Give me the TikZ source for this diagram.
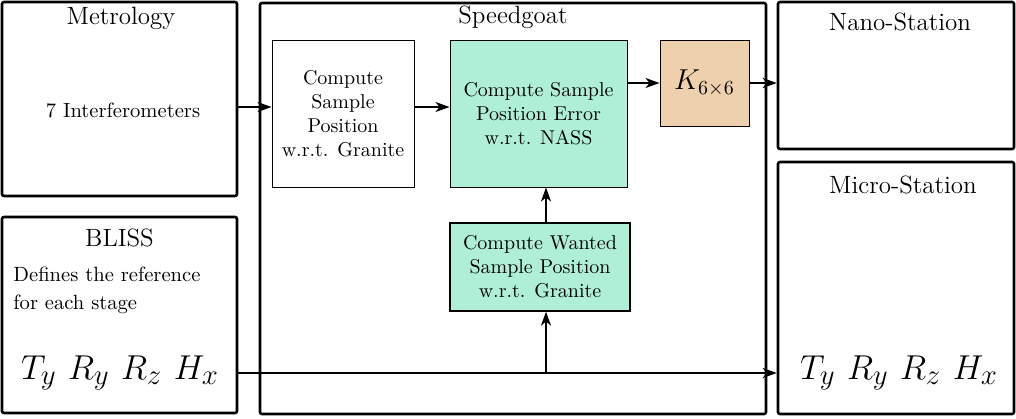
\documentclass[tikz,border=0pt]{standalone}
\usetikzlibrary{arrows.meta}
\definecolor{mint}{HTML}{AEEFD6}
\definecolor{peach}{HTML}{EFD0AC}
\begin{document}
\begin{tikzpicture}[x=0.5pt,y=-0.5pt,
  bigbox/.style={draw,line width=1.3pt,rounded corners=1pt,inner sep=0pt},
  inbox/.style={draw,inner sep=0pt,align=center,font=\normalsize},
  title/.style={font=\fontsize{12.5}{15}\selectfont,inner sep=0pt},
  conn/.style={line width=0.8pt,-{Stealth[length=7pt,width=5pt,inset=2pt]}},
  mathtxt/.style={font=\fontsize{19}{23}\selectfont,inner sep=0pt}]
\useasboundingbox (0,0) rectangle (1016,418);
% outer boxes
\node[bigbox,minimum width=117.5pt,minimum height=97pt] (metro) at (119.5,99) {};
\node[bigbox,minimum width=117.5pt,minimum height=98pt] (bliss) at (119.5,315) {};
\node[bigbox,minimum width=253pt,minimum height=205.5pt] (speed) at (513,208.5) {};
\node[bigbox,minimum width=118pt,minimum height=73.5pt] (nano) at (896,75.5) {};
\node[bigbox,minimum width=118pt,minimum height=126pt] (micro) at (896,288) {};
% titles
\node[title] (tmetro) at (121,18) {Metrology};
\node[title] (tspeed) at (513,17) {Speedgoat};
\node[title] (tnano) at (900,22) {Nano-Station};
\node[title] (tmicro) at (903,185) {Micro-Station};
\node[title] (tbliss) at (119.5,238) {BLISS};
% texts
\node[inner sep=0pt,font=\fontsize{10.3}{12.5}\selectfont] (interf) at (123,110) {7 Interferometers};
\node[inner sep=0pt,align=left,anchor=west,font=\fontsize{10.3}{14}\selectfont] (bdesc) at (13,290) {Defines the reference\\for each stage};
\node[mathtxt] (bmath) at (120,373) {$T_y\ R_y\ R_z\ H_x$};
\node[mathtxt] (mmath) at (899,373) {$T_y\ R_y\ R_z\ H_x$};
% inner boxes
\node[inbox,line width=0.5pt,minimum width=71pt,minimum height=73.5pt] (b1) at (343,113.5) {Compute\\Sample\\Position\\w.r.t. Granite};
\node[inbox,line width=0.5pt,fill=mint,minimum width=88.5pt,minimum height=73.5pt] (b2) at (538.5,113.5) {Compute Sample\\Position Error\\w.r.t. NASS};
\node[inbox,line width=0.5pt,fill=peach,minimum width=44.5pt,minimum height=43pt,font=\Large] (K) at (704.5,83) {$K_{6\times 6}$};
\node[inbox,line width=0.65pt,fill=mint,minimum width=90pt,minimum height=44pt] (want) at (540,267) {Compute Wanted\\Sample Position\\w.r.t. Granite};
% connectors
\coordinate (r1) at (0,107);
\coordinate (r2) at (0,83);
\coordinate (r3) at (0,373);
\coordinate (br) at (546,373);
\draw[conn] (metro.east |- r1) -- (b1.west |- r1);
\draw[conn] (b1.east |- r1) -- (b2.west |- r1);
\draw[conn] (b2.east |- r2) -- (K.west |- r2);
\draw[conn,line width=1.1pt] (K.east |- r2) -- (nano.west |- r2);
\draw[conn,line width=1.1pt] (bliss.east |- r3) -- (micro.west |- r3);
\draw[conn] (br) -- (br |- want.south);
\draw[conn] (br |- want.north) -- (br |- b2.south);
\end{tikzpicture}
\end{document}
